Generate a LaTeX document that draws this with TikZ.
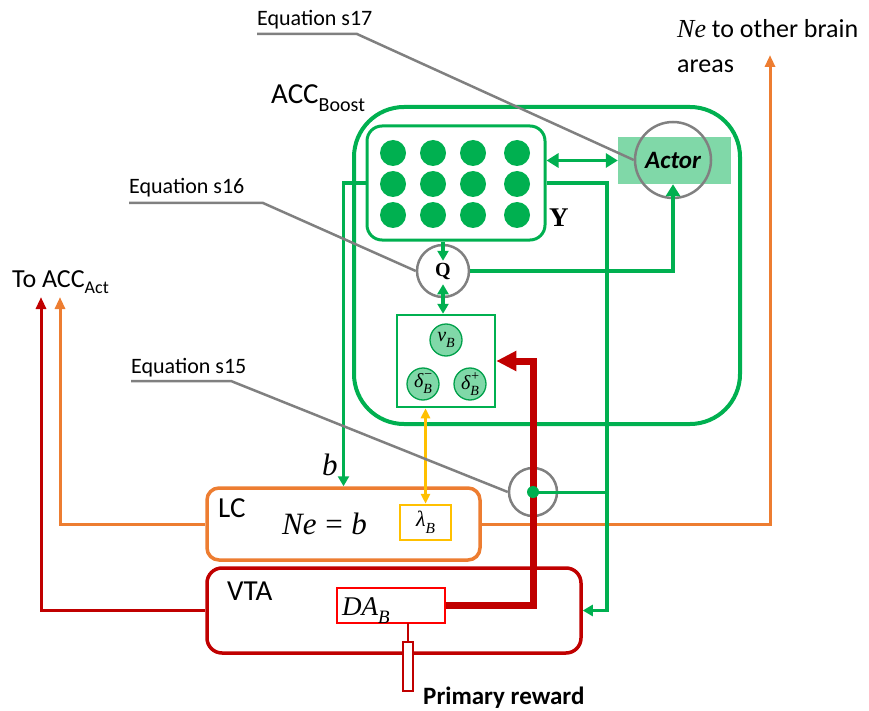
\documentclass[tikz,border=0pt]{standalone}
\usepackage{fontspec}
\setmainfont{Carlito}
\newfontfamily\tms{Liberation Serif}
\usetikzlibrary{arrows.meta,calc}
\definecolor{gr}{HTML}{00B050}
\definecolor{grd}{HTML}{00A04A}
\definecolor{lgr}{HTML}{80D8A8}
\definecolor{dred}{HTML}{C00000}
\definecolor{brd}{HTML}{FF0000}
\definecolor{org}{HTML}{ED7D31}
\definecolor{yel}{HTML}{FFC000}
\definecolor{gry}{HTML}{808080}
\newcommand\fs[1]{\fontsize{#1}{#1}\selectfont}
\newcommand\lsub[1]{\raisebox{-0.3em}{\scalebox{0.7}{#1}}}
\begin{document}
\begin{tikzpicture}[x=1pt,y=-1pt,line join=miter,
  lbl/.style={inner sep=0pt,anchor=base west},
  gline/.style={draw=gry,line width=2.5pt},
  gtip/.tip={Triangle[length=10pt,width=11pt]},
  garr/.style={draw=gr,line width=3.5pt,-gtip},
  gdbl/.style={draw=gr,line width=3.5pt,gtip-gtip},
  sdot/.style={circle,draw=grd,fill=lgr,line width=1.3pt,minimum size=32pt,inner sep=0pt,font=\tms\itshape\fs{20}},
  bx/.style={inner sep=0pt}
]
\useasboundingbox (0,0) rectangle (869,711);

% ---------- ACC Boost ----------
\node[bx,draw=gr,line width=4pt,rounded corners=50pt,minimum width=386pt,minimum height=317pt] (accb) at (547,265.5) {};
\node[lbl] (acclab) at (271,104) {\fs{29}ACC\raisebox{-8pt}{\fs{20}Boost}};

\node[bx,draw=gr,line width=3pt,rounded corners=15pt,minimum width=178pt,minimum height=114pt] (ybox) at (456,183) {};
\foreach \i/\x in {1/393,2/433,3/473,4/517}
  \foreach \j/\y in {1/153,2/184,3/215}
    \node[circle,fill=gr,minimum size=26pt,inner sep=0pt] (d\i\j) at (\x,\y) {};
\node[lbl] (ylab) at (549,226) {\tms\bfseries\fs{27}Y};

\node[bx,fill=lgr,minimum width=113pt,minimum height=47pt] (actrect) at (674.5,160.5) {};
\node[circle,draw=gry,line width=2.5pt,minimum size=76pt,inner sep=0pt] (actc) at (673,160) {\fs{25}\bfseries\itshape Actor};

\node[circle,draw=gry,line width=2.5pt,minimum size=52pt,inner sep=0pt] (q) at (443,271) {\tms\bfseries\fs{20}Q};

\node[bx,draw=gr,line width=2.5pt,minimum width=98pt,minimum height=92pt] (nubox) at (446,361) {};
\node[sdot] (nu) at (446,340) {ν\lsub{B}};
\node[sdot] (dm) at (423,384) {δ\rlap{\raisebox{0.45em}{\scalebox{0.7}{−}}}\lsub{B}};
\node[sdot] (dp) at (470,384) {δ\rlap{\raisebox{0.45em}{\scalebox{0.7}{+}}}\lsub{B}};

\node[circle,draw=gry,line width=2.5pt,minimum size=48pt,inner sep=0pt] (s15) at (533,492) {};
\coordinate (gj) at (607,492);

% ---------- LC ----------
\node[bx,draw=org,line width=3.5pt,rounded corners=12pt,minimum width=273pt,minimum height=72pt] (lc) at (343.5,524) {};
\node[lbl] (lclab) at (218,517) {\fs{29}LC};
\node[lbl] (neb) at (282,534) {\tms\itshape\fs{31}Ne\hspace{0.28em}{\upshape=}\hspace{0.28em}b};
\node[bx,draw=yel,line width=2.5pt,minimum width=51pt,minimum height=35pt] (lam) at (425.5,522.5) {\tms\itshape\fs{22}λ\lsub{B}};

% ---------- VTA ----------
\node[bx,draw=dred,line width=3.5pt,rounded corners=15pt,minimum width=374pt,minimum height=85pt] (vta) at (394,610.5) {};
\node[lbl] (vtalab) at (227,600) {\fs{29}VTA};
\node[bx,draw=brd,fill=white,line width=2pt,minimum width=108pt,minimum height=35pt] (da) at (391,605.5) {};
\node[lbl] (dalab) at (342,615) {\tms\itshape\fs{27}DA\lsub{B}};
\draw[dred,line width=1.2pt] (408,623) -- (408,642);
\node[bx,draw=dred,fill=white,line width=1.5pt,minimum width=10pt,minimum height=49pt] (pr) at (408,666.5) {};
\node[lbl] (prlab) at (423,704) {\fs{25}\bfseries Primary reward};

% ---------- outgoing labels ----------
\node[lbl] (toacc) at (12,287) {\fs{26}To ACC\raisebox{-6pt}{\fs{18}Act}};
\node[lbl] (ne1) at (677,38) {\fs{26}{\tms\itshape Ne} to other brain};
\node[lbl] (ne2) at (677,73) {\fs{26}areas};
\coordinate (otop) at (770,55);
\coordinate (oleft) at (60,297);
\coordinate (rleft) at (41,297);

% orange connectors
\draw[org,line width=3pt,-{Triangle[length=12pt,width=10pt]}] (lc.east) -| (otop);
\draw[org,line width=3pt,-{Triangle[length=12pt,width=10pt]}] (lc.west) -| (oleft);
% red connector to ACC_Act
\draw[dred,line width=3pt,-{Triangle[length=12pt,width=10pt]}] (vta.west) -| (rleft);

% red thick DA -> nu box
\draw[dred,line width=7pt,-{Triangle[length=20pt,width=19pt]}] (da.east) -| (s15.center) |- (nubox.east);
% yellow
\draw[yel,line width=2.5pt,{Triangle[length=10pt,width=9pt]}-{Triangle[length=10pt,width=9pt]}] (lam.north) -- (lam.north |- nubox.south);

% green connectors
\draw[draw=gr,line width=3.5pt,{Triangle[length=12pt,width=14pt]}-{Triangle[length=12pt,width=14pt]}] (ybox.east |- actrect.west) -- (actrect.west);
\draw[garr] (ybox.east) -| (gj) |- (vta.east);
\draw[garr] (ybox.west) -| (lc.north);
\node[lbl] (blab) at (322,475) {\tms\itshape\fs{31}b};
\draw[garr] (q |- ybox.south) -- ($(q.north)+(0,17)$);
\draw[gdbl] ($(q.south)+(0,-14)$) -- (q |- nubox.north);
\draw[draw=gr,line width=3.5pt,-{Triangle[length=12pt,width=14pt]}] (q.east) -| (actc |- actrect.south);
\node[circle,fill=gr,minimum size=12pt,inner sep=0pt] (jdot) at (s15.center) {};
\draw[draw=gr,line width=3pt] (jdot.center) -- (gj);

% equation leaders
\node[lbl] (eq17) at (257,26) {\fs{22}Equation s17};
\node[lbl] (eq16) at (129,194) {\fs{22}Equation s16};
\node[lbl] (eq15) at (131,373) {\fs{22}Equation s15};
\draw[gline] ($(eq17.base west)+(0,8)$) -- ++(100,0) -- (actc.west);
\draw[gline] ($(eq16.base west)+(0,9)$) -- ++(134,0) -- (q.west);
\draw[gline] ($(eq15.base west)+(0,8)$) -- ++(100,0) -- (s15.west);
\end{tikzpicture}
\end{document}
